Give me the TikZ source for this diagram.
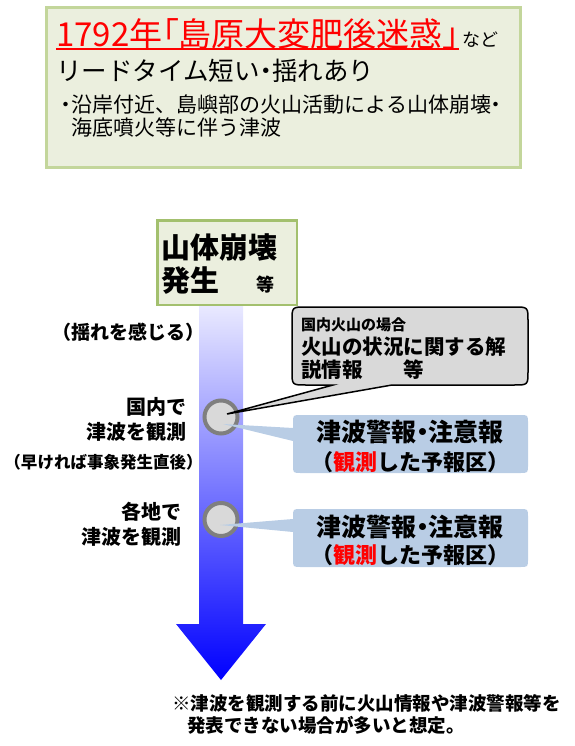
\documentclass[tikz,border=0pt]{standalone}
\usepackage{fontspec}
\setmainfont{Noto Sans CJK JP}
\newfontfamily\jpp{Noto Sans CJK JP}[RawFeature=+palt]
\definecolor{boxfill}{RGB}{235,239,222}
\definecolor{boxline}{RGB}{195,214,155}
\definecolor{evline}{RGB}{163,192,110}
\definecolor{bluebox}{RGB}{185,205,229}
\definecolor{grayfill}{RGB}{217,217,217}
\definecolor{circline}{RGB}{127,127,127}
\definecolor{arrowtop}{RGB}{234,234,255}
\definecolor{arrowbot}{RGB}{0,0,255}
\newcommand{\fsz}[1]{\fontsize{#1}{#1}\selectfont}
\newcommand{\ndot}{{\jpp ・}}
\newcommand{\ulred}[1]{\setbox0=\hbox{#1}\rlap{\rule[-4pt]{\wd0}{2pt}}\box0}
\begin{document}
\begin{tikzpicture}[x=1pt,y=-1pt,
  txt/.style={inner sep=0pt, anchor=base west},
  txtr/.style={inner sep=0pt, anchor=base east, font=\bfseries},
  txtc/.style={inner sep=0pt, anchor=base, font=\bfseries},
  circ/.style={circle, draw=circline, fill=grayfill, line width=4pt, minimum size=33pt, inner sep=0pt}]
\useasboundingbox (0,0) rectangle (574,746);

% top box
\node[draw=boxline, fill=boxfill, line width=3pt, minimum width=474pt, minimum height=160pt,
      anchor=north west, inner sep=0pt] (top) at (44.5,6.5) {};
\node[txt] (t1) at (56,46.5) {\fsz{33}\textcolor{red}{\ulred{1792年{\jpp 「}島原大変肥後迷惑{\jpp 」}}}\hspace{3pt}{\fsz{18}など}};
\node[txt] (t2) at (56,80.3) {\fsz{25.5}リードタイム短い\ndot 揺れあり};
\node[txt] (t3) at (61,113) {\fsz{21}\ndot 沿岸付近、島嶼部の火山活動による山体崩壊\ndot};
\node[txt] (t4) at (71,136) {\fsz{21}海底噴火等に伴う津波};

% arrow
\shade[top color=arrowtop, bottom color=arrowbot]
  (199,305) -- (243,305) -- (243,624) -- (266,624) -- (221,680) -- (176,624) -- (199,624) -- cycle;

% event box
\node[draw=evline, fill=boxfill, line width=2.5pt, minimum width=139.5pt, minimum height=84.5pt,
      anchor=north west, inner sep=0pt] (ev) at (156.25,219.25) {};
\node[txt, font=\bfseries] (ev1) at (161,258.5) {\fsz{29}山体崩壊};
\node[txt, font=\bfseries] (ev2) at (161,291) {\fsz{29}発生};
\node[txt, font=\bfseries] (ev3) at (256,291) {\fsz{18}等};

% circles
\node[circ] (c1) at (221,417) {};
\node[circ] (c2) at (221,519.5) {};

% blue callouts
\fill[bluebox] (c1.center) ++(2,7) -- (293,428) -- (293,423) .. controls (293,415) .. (301,415)
  -- (520,415) .. controls (528,415) .. (528,423) -- (528,465) .. controls (528,473) .. (520,473)
  -- (301,473) .. controls (293,473) .. (293,465) -- (293,441) -- cycle;
\fill[bluebox] (c2.center) ++(-1,5.5) -- (293,519) -- (293,517) .. controls (293,509) .. (301,509)
  -- (520,509) .. controls (528,509) .. (528,517) -- (528,559) .. controls (528,567) .. (520,567)
  -- (301,567) .. controls (293,567) .. (293,559) -- (293,532) -- cycle;

% gray callout
\filldraw[fill=grayfill, draw=black, line width=1.5pt]
  (c1.center) ++(6,-3) -- (333,385) -- (306,385) .. controls (292,385) .. (292,371)
  -- (292,321) .. controls (292,307) .. (306,307) -- (514,307) .. controls (528,307) .. (528,321)
  -- (528,371) .. controls (528,385) .. (514,385) -- (392,385) -- cycle;
\node[txt, font=\bfseries] (g1) at (301,330) {\fsz{15}国内火山の場合};
\node[txt, font=\bfseries] (g2) at (301,354.5) {\fsz{20.5}火山の状況に関する解};
\node[txt, font=\bfseries] (g3) at (301,377.7) {\fsz{20.5}説情報　　等};

% blue texts
\node[txtc] (b1) at (410,441.7) {\fsz{25}津波警報{\bfseries\ndot}注意報};
\node[txtc] (b2) at (410,470.7) {\fsz{22}（\textcolor{red}{観測}した予報区）};
\node[txtc] (b3) at (410,536.7) {\fsz{25}津波警報{\bfseries\ndot}注意報};
\node[txtc] (b4) at (410,563.7) {\fsz{22}（\textcolor{red}{観測}した予報区）};

% left labels
\node[txtc] (l1) at (128.5,339) {\fsz{19}（揺れを感じる）};
\node[txtr] (l2) at (187,414.6) {\fsz{20}国内で};
\node[txtr] (l3) at (187,439.6) {\fsz{20}津波を観測};
\node[txtc] (l4) at (103.5,468.3) {\fsz{16.5}（早ければ事象発生直後）};
\node[txtr] (l5) at (182,519.6) {\fsz{20}各地で};
\node[txtr] (l6) at (182,544.6) {\fsz{20}津波を観測};

% bottom note
\node[txt, font=\bfseries] (n1) at (172,710) {\fsz{18.5}※津波を観測する前に火山情報や津波警報等を};
\node[txt, font=\bfseries] (n2) at (187,732) {\fsz{18.5}発表できない場合が多いと想定。};
\end{tikzpicture}
\end{document}
